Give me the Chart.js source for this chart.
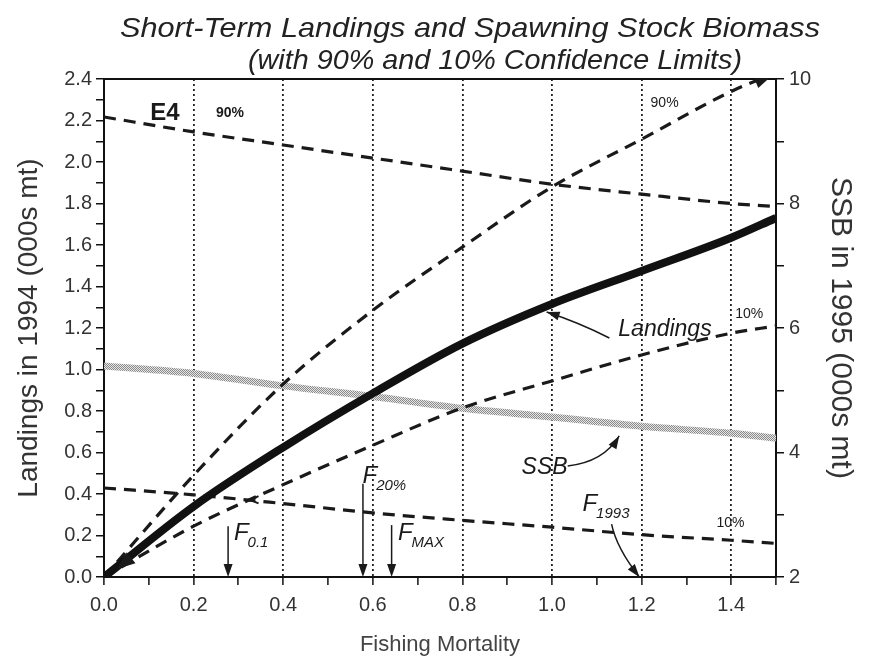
<!DOCTYPE html>
<html>
<head>
<meta charset="utf-8">
<script src="https://cdn.jsdelivr.net/npm/chart.js@4.4.1/dist/chart.umd.min.js"></script>
<style>
  html, body { margin: 0; padding: 0; background: #fff; }
  #wrap { width: 872px; height: 662px; position: relative; }
</style>
</head>
<body>
<div id="wrap"><canvas id="chart"></canvas></div>
<script>
// Fishing mortality (x axis) and the curves
const fishingMortality = [0, 0.2, 0.4, 0.6, 0.8, 1.0, 1.2, 1.4, 1.5];

// Landings in 1994, 000s mt (left axis)
const landings   = [0, 0.34, 0.625, 0.885, 1.125, 1.316, 1.475, 1.635, 1.73];
const landings90 = [0, 0.49, 0.93, 1.285, 1.59, 1.88, 2.11, 2.34, 2.43];
const landings10 = [0, 0.245, 0.445, 0.635, 0.815, 0.945, 1.07, 1.175, 1.21];

// SSB in 1995, 000s mt (right axis)
const ssb   = [5.39, 5.27, 5.07, 4.90, 4.71, 4.57, 4.42, 4.31, 4.23];
const ssb90 = [9.39, 9.15, 8.94, 8.73, 8.52, 8.31, 8.15, 8.00, 7.95];
const ssb10 = [3.43, 3.32, 3.18, 3.03, 2.91, 2.80, 2.68, 2.59, 2.54];

// axis ranges / tick steps
const xRange = [0, 1.5], xStep = 0.1;
const landingsRange = [0, 2.4], landingsStep = 0.1;
const ssbRange = [2, 10], ssbStep = 1;

const titleLines = ['Short-Term Landings and Spawning Stock Biomass', '(with 90% and 10% Confidence Limits)'];

const FONT = '"Liberation Sans", Arial, Helvetica, sans-serif';
const INK = '#1a1a1a';
const DASH = [12, 8];

function pts(ys) {
  return fishingMortality.map((f, i) => ({ x: f, y: ys[i] }));
}

// grey stippled stroke used for the SSB line
function stipple() {
  const c = document.createElement('canvas');
  c.width = 4; c.height = 4;
  const g = c.getContext('2d');
  g.fillStyle = '#e6e6e6';
  g.fillRect(0, 0, 4, 4);
  g.fillStyle = '#8a8a8a';
  for (let i = 0; i < 4; i++) {
    for (let j = 0; j < 4; j++) {
      if ((i + j) % 2 === 0) g.fillRect(i, j, 1, 1);
    }
  }
  return g.createPattern(c, 'repeat');
}

function arrowHead(ctx, x, y, angle, len, half) {
  ctx.save();
  ctx.translate(x, y);
  ctx.rotate(angle);
  ctx.beginPath();
  ctx.moveTo(0, 0);
  ctx.lineTo(-len, -half);
  ctx.lineTo(-len, half);
  ctx.closePath();
  ctx.fill();
  ctx.restore();
}

function stretched(ctx, text, cx, baseY, font, width) {
  ctx.save();
  ctx.font = font;
  const w = ctx.measureText(text).width;
  ctx.translate(cx, baseY);
  ctx.scale(width / w, 1);
  ctx.textAlign = 'center';
  ctx.textBaseline = 'alphabetic';
  ctx.fillText(text, 0, 0);
  ctx.restore();
}

// titles, labels and arrows drawn on top of the chart
const notesPlugin = {
  id: 'notes',
  afterDraw(chart) {
    const ctx = chart.ctx;
    const sx = chart.scales.x, sy = chart.scales.y;
    const X = f => sx.getPixelForValue(f);
    const Y = l => sy.getPixelForValue(l);
    ctx.save();
    ctx.fillStyle = '#222';
    ctx.strokeStyle = INK;

    // title
    stretched(ctx, titleLines[0], 470, 37, 'italic 28px ' + FONT, 700);
    stretched(ctx, titleLines[1], 495, 69, 'italic 28px ' + FONT, 494);

    ctx.textAlign = 'left';
    ctx.textBaseline = 'alphabetic';
    ctx.fillStyle = INK;

    // plain labels
    const labels = [
      { t: 'E4', f: 0.103, l: 2.202, font: 'bold 24px ' + FONT },
      { t: '90%', f: 0.25, l: 2.217, font: 'bold 14px ' + FONT },
      { t: '90%', f: 1.22, l: 2.265, font: '14px ' + FONT },
      { t: '10%', f: 1.409, l: 1.248, font: '14px ' + FONT },
      { t: '10%', f: 1.367, l: 0.241, font: '14px ' + FONT },
      { t: 'Landings', f: 1.148, l: 1.161, font: 'italic 23px ' + FONT },
      { t: 'SSB', f: 0.932, l: 0.496, font: 'italic 23px ' + FONT }
    ];
    labels.forEach(a => {
      ctx.font = a.font;
      ctx.fillText(a.t, X(a.f), Y(a.l));
    });

    // F reference points with subscripts
    const fLabels = [
      { sub: '0.1', f: 0.29, l: 0.178 },
      { sub: '20%', f: 0.577, l: 0.453 },
      { sub: 'MAX', f: 0.656, l: 0.178 },
      { sub: '1993', f: 1.068, l: 0.318 }
    ];
    fLabels.forEach(a => {
      const x = X(a.f), y = Y(a.l);
      ctx.font = 'italic 24px ' + FONT;
      ctx.fillText('F', x, y);
      const w = ctx.measureText('F').width;
      ctx.font = 'italic 15px ' + FONT;
      ctx.fillText(a.sub, x + w - 1, y + 7);
    });

    // vertical arrows down to the x axis
    ctx.lineWidth = 1.5;
    const drops = [
      { f: 0.277, top: 0.245 },
      { f: 0.578, top: 0.45 },
      { f: 0.642, top: 0.25 }
    ];
    drops.forEach(a => {
      const x = X(a.f), y0 = Y(a.top), y1 = Y(0);
      ctx.beginPath();
      ctx.moveTo(x, y0);
      ctx.lineTo(x, y1 - 10);
      ctx.stroke();
      arrowHead(ctx, x, y1, Math.PI / 2, 13, 4.5);
    });

    // curved arrows
    function curve(p0, c, p1) {
      ctx.beginPath();
      ctx.moveTo(X(p0[0]), Y(p0[1]));
      ctx.quadraticCurveTo(X(c[0]), Y(c[1]), X(p1[0]), Y(p1[1]));
      ctx.stroke();
      const ang = Math.atan2(Y(p1[1]) - Y(c[1]), X(p1[0]) - X(c[0]));
      arrowHead(ctx, X(p1[0]), Y(p1[1]), ang, 13, 4.5);
    }
    curve([1.128, 1.152], [1.057, 1.229], [0.988, 1.277]); // Landings
    curve([1.035, 0.535], [1.115, 0.554], [1.15, 0.68]);   // SSB
    curve([1.133, 0.255], [1.144, 0.14], [1.195, 0.0]);    // F1993

    // arrow tips on the curves
    const tipA = Math.atan2(Y(0) - Y(0.34), X(0) - X(0.2));
    arrowHead(ctx, X(0.029), Y(0.039), tipA, 18, 7);
    const tipB = Math.atan2(Y(2.43) - Y(2.34), X(1.5) - X(1.4));
    arrowHead(ctx, X(1.485), Y(2.405), tipB, 14, 5);

    // small chevron on the lower limit line
    ctx.lineWidth = 2;
    ctx.beginPath();
    ctx.moveTo(X(0.345), Y(0.39));
    ctx.lineTo(X(0.326), Y(0.371));
    ctx.lineTo(X(0.345), Y(0.355));
    ctx.stroke();

    ctx.restore();
  }
};

const tickFont = { family: FONT, size: 20 };
const evenTenths = v => (Math.round(v * 10) % 2 ? '' : v.toFixed(1));

const chart = new Chart(document.getElementById('chart'), {
  type: 'line',
  data: {
    datasets: [
      { data: pts(landings), yAxisID: 'y', borderColor: '#111', borderWidth: 8, borderCapStyle: 'butt' },
      { data: pts(landings90), yAxisID: 'y', borderColor: INK, borderWidth: 3.2, borderDash: DASH },
      { data: pts(landings10), yAxisID: 'y', borderColor: INK, borderWidth: 3.2, borderDash: DASH },
      { data: pts(ssb90), yAxisID: 'y2', borderColor: INK, borderWidth: 3.2, borderDash: DASH },
      { data: pts(ssb10), yAxisID: 'y2', borderColor: INK, borderWidth: 3.2, borderDash: DASH },
      { data: pts(ssb), yAxisID: 'y2', borderColor: stipple(), borderWidth: 7 }
    ]
  },
  options: {
    responsive: true,
    maintainAspectRatio: false,
    animation: false,
    layout: { padding: 0 },
    elements: {
      point: { radius: 0 },
      line: { cubicInterpolationMode: 'monotone', fill: false }
    },
    plugins: { legend: { display: false }, tooltip: { enabled: false }, title: { display: false } },
    scales: {
      x: {
        type: 'linear', position: 'bottom', min: xRange[0], max: xRange[1],
        afterFit: s => { s.height = 85; },
        ticks: { stepSize: xStep, autoSkip: false, maxRotation: 0, color: '#333', font: tickFont, padding: 8, callback: evenTenths },
        grid: {
          color: c => {
            if (!c.tick) return 'rgba(0,0,0,0)';
            const k = Math.round(c.tick.value * 10);
            return (k % 2 === 0 && k > 0 && k < 15) ? '#222' : 'rgba(0,0,0,0)';
          },
          lineWidth: 1.8, tickColor: '#111', tickWidth: 1.5, tickLength: 8, tickBorderDash: []
        },
        border: { color: '#111', width: 2, dash: [2, 3] },
        title: { display: true, text: 'Fishing Mortality', color: '#444', font: { family: FONT, size: 22 }, padding: { top: 0, bottom: 4 } }
      },
      x2: {
        type: 'linear', position: 'top', min: xRange[0], max: xRange[1],
        afterFit: s => { s.height = 79; },
        ticks: { display: false },
        grid: { drawOnChartArea: false, drawTicks: false },
        border: { color: '#111', width: 2 }
      },
      y: {
        type: 'linear', position: 'left', min: landingsRange[0], max: landingsRange[1],
        afterFit: s => { s.width = 104; },
        ticks: { stepSize: landingsStep, autoSkip: false, color: '#333', font: tickFont, padding: 4, callback: evenTenths },
        grid: { drawOnChartArea: false, color: '#111', lineWidth: 1.5, tickLength: 8 },
        border: { color: '#111', width: 2 },
        title: { display: true, text: 'Landings in 1994 (000s mt)', color: '#333', font: { family: FONT, size: 28 }, padding: { top: 12, bottom: 0 } }
      },
      y2: {
        type: 'linear', position: 'right', min: ssbRange[0], max: ssbRange[1],
        afterFit: s => { s.width = 96; },
        ticks: { stepSize: ssbStep, autoSkip: false, color: '#333', font: tickFont, padding: 5, callback: v => (v % 2 ? '' : String(v)) },
        grid: { drawOnChartArea: false, color: '#111', lineWidth: 1.5, tickLength: 8 },
        border: { color: '#111', width: 2 },
        title: { display: true, text: 'SSB in 1995 (000s mt)', color: '#333', font: { family: FONT, size: 30 }, padding: { top: 14, bottom: 0 } }
      }
    }
  },
  plugins: [notesPlugin]
});
</script>
</body>
</html>
